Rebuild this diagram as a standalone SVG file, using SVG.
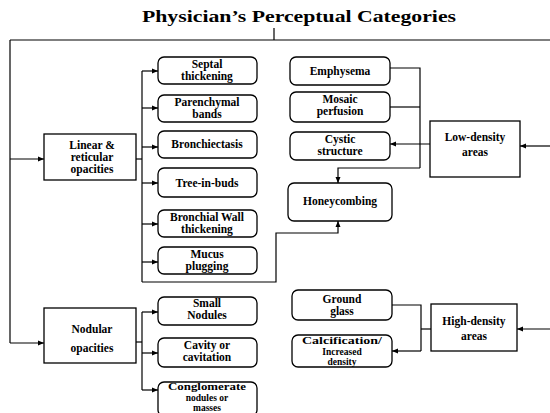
<svg xmlns="http://www.w3.org/2000/svg" width="550" height="413" viewBox="0 0 550 413">
<defs>
<marker id="ah" markerUnits="userSpaceOnUse" markerWidth="6" markerHeight="6" refX="6" refY="3" orient="auto">
<path d="M0,0.5 L6,3 L0,5.5 z" fill="#000"/>
</marker>
<style>
.n rect{fill:#fff;stroke:#000;stroke-width:1.3}
.n text{font-family:"Liberation Serif","DejaVu Serif",serif;font-weight:bold;font-size:11.5px;text-anchor:middle;fill:#000}
.n text.s{font-size:9.5px}
.c path{fill:none;stroke:#000;stroke-width:1.2}
.c .a{marker-end:url(#ah)}
.t{font-family:"Liberation Serif","DejaVu Serif",serif;font-weight:bold;font-size:17px;text-anchor:middle;fill:#000}
</style>
</defs>
<rect width="550" height="413" fill="#fff"/>
<text class="t" x="299" y="22" textLength="314" lengthAdjust="spacingAndGlyphs">Physician’s Perceptual Categories</text>

<g class="c" id="connectors">
<path d="M274 28 V40"/>
<path d="M10 40 H550"/>
<path d="M10 40 V343"/>
<path class="a" d="M10 159 H44"/>
<path class="a" d="M10 343 H44"/>
<path d="M136 159 H142"/>
<path d="M142 71 V282"/>
<path class="a" d="M142 71 H158"/>
<path class="a" d="M142 108 H158"/>
<path class="a" d="M142 147 H158"/>
<path class="a" d="M142 183 H158"/>
<path class="a" d="M142 224 H158"/>
<path class="a" d="M142 262 H158"/>
<path class="a" d="M142 282 H276 V233 H338 V221"/>
<path d="M136 342 H142"/>
<path d="M142 312 V390"/>
<path class="a" d="M142 312 H158"/>
<path class="a" d="M142 353 H158"/>
<path class="a" d="M142 390 H158"/>
<path class="a" d="M550 146 H520"/>
<path class="a" d="M430 144 H390"/>
<path d="M390 68 H420 V168"/>
<path d="M390 107 H420"/>
<path class="a" d="M420 168 H338 V183"/>
<path class="a" d="M550 329 H517"/>
<path d="M431 329 H421"/>
<path d="M392 305 H421 V351"/>
<path class="a" d="M421 351 H392"/>
</g>

<g class="n" id="linear"><rect x="44" y="134" width="92" height="46"/><text x="92" y="149">Linear &amp;</text><text x="92" y="161">reticular</text><text x="92" y="173">opacities</text></g>
<g class="n" id="nodular"><rect x="44" y="308" width="92" height="55"/><text x="92" y="333">Nodular</text><text x="92" y="352">opacities</text></g>

<g class="n" id="septal"><rect x="158" y="57" width="99" height="27" rx="6"/><text x="207" y="68">Septal</text><text x="207" y="80">thickening</text></g>
<g class="n" id="parenchymal"><rect x="158" y="95" width="99" height="27" rx="6"/><text x="207" y="106">Parenchymal</text><text x="207" y="118">bands</text></g>
<g class="n" id="bronchiectasis"><rect x="158" y="131" width="99" height="27" rx="6"/><text x="207" y="148">Bronchiectasis</text></g>
<g class="n" id="treeinbuds"><rect x="158" y="168" width="99" height="29" rx="6"/><text x="207" y="187">Tree-in-buds</text></g>
<g class="n" id="bronchialwall"><rect x="158" y="210" width="99" height="27" rx="6"/><text x="207" y="221">Bronchial Wall</text><text x="207" y="233">thickening</text></g>
<g class="n" id="mucus"><rect x="158" y="247" width="99" height="27" rx="6"/><text x="207" y="258">Mucus</text><text x="207" y="270">plugging</text></g>

<g class="n" id="smallnodules"><rect x="158" y="297" width="99" height="28" rx="6"/><text x="207" y="307">Small</text><text x="207" y="319">Nodules</text></g>
<g class="n" id="cavity"><rect x="158" y="338" width="99" height="29" rx="6"/><text x="207" y="349">Cavity or</text><text x="207" y="361">cavitation</text></g>
<g class="n" id="conglomerate"><rect x="158" y="382" width="99" height="34" rx="6"/><text class="s" x="207" y="390" textLength="78" lengthAdjust="spacingAndGlyphs">Conglomerate</text><text class="s" x="207" y="400.5">nodules or</text><text class="s" x="207" y="411">masses</text></g>

<g class="n" id="emphysema"><rect x="290" y="57" width="100" height="28" rx="6"/><text x="340" y="75">Emphysema</text></g>
<g class="n" id="mosaic"><rect x="290" y="92" width="100" height="30" rx="6"/><text x="340" y="103">Mosaic</text><text x="340" y="115">perfusion</text></g>
<g class="n" id="cystic"><rect x="290" y="132" width="100" height="28" rx="6"/><text x="340" y="143">Cystic</text><text x="340" y="155">structure</text></g>
<g class="n" id="honeycombing"><rect x="288" y="183" width="104" height="38" rx="6"/><text x="340" y="205">Honeycombing</text></g>
<g class="n" id="lowdensity"><rect x="430" y="121" width="90" height="56"/><text x="475" y="141">Low-density</text><text x="475" y="156">areas</text></g>

<g class="n" id="groundglass"><rect x="292" y="290" width="100" height="30" rx="6"/><text x="342" y="303">Ground</text><text x="342" y="315">glass</text></g>
<g class="n" id="calcification"><rect x="292" y="335" width="100" height="32" rx="6"/><text class="s" x="342" y="344" textLength="80" lengthAdjust="spacingAndGlyphs">Calcification/</text><text class="s" x="342" y="354.5">Increased</text><text class="s" x="342" y="365">density</text></g>
<g class="n" id="highdensity"><rect x="431" y="304" width="86" height="47"/><text x="474" y="325">High-density</text><text x="474" y="340">areas</text></g>
</svg>
